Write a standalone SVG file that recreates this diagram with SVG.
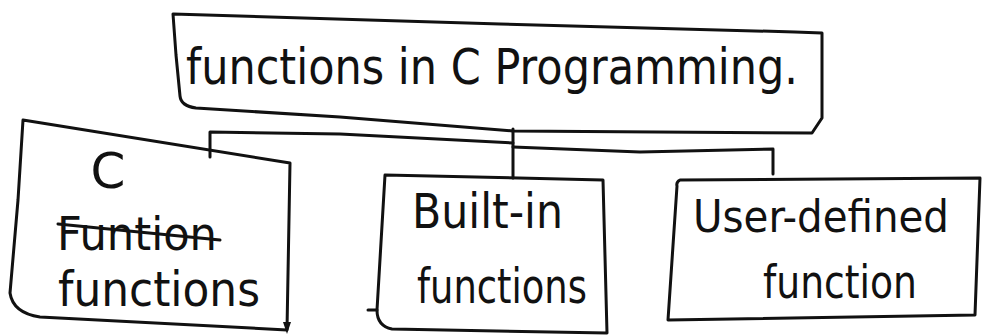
<svg xmlns="http://www.w3.org/2000/svg" width="984" height="336" viewBox="0 0 984 336">
  <style>
    .pen { fill: none; stroke: #111; stroke-width: 3; stroke-linecap: round; stroke-linejoin: round; }
    .hand { font-family: "DejaVu Sans", "Liberation Sans", sans-serif; fill: #111; font-weight: normal; }
  </style>
  <rect width="984" height="336" fill="#fff"/>

  <!-- root node -->
  <g id="node-root">
    <path class="pen" d="M173,14 L500,24 L795,32 L822,33 L822,118 L812,133 L513,131 L340,117 L196,108 Q181,106 180,96 L176,55 Z"/>
    <text class="hand" x="186" y="84" font-size="50" textLength="612" lengthAdjust="spacingAndGlyphs">functions in C Programming.</text>
  </g>

  <!-- connectors -->
  <g id="connectors">
    <path class="pen" d="M513,129 L513,178"/>
    <path class="pen" d="M210,157 L210,132 L340,134 L513,143"/>
    <path class="pen" d="M513,147 L640,152 L773,149 L773,174"/>
  </g>

  <!-- C functions node -->
  <g id="node-c-functions">
    <path class="pen" d="M23,120 L290,163 L287,330 L40,317 Q13,313 10,293 L18,200 Z"/>
    <path d="M283,322 L291,322 L287,334 Z" fill="#111"/>
    <text class="hand" x="108" y="188" font-size="50" text-anchor="middle">C</text>
    <text class="hand" x="57" y="250" font-size="46" textLength="160" lengthAdjust="spacingAndGlyphs">Funtion</text>
    <path class="pen" d="M58,224 L220,240"/>
    <text class="hand" x="58" y="306" font-size="48" textLength="202" lengthAdjust="spacingAndGlyphs">functions</text>
  </g>

  <!-- Built-in node -->
  <g id="node-built-in">
    <path class="pen" d="M385,175 L603,180 L607,333 L392,329 Q377,326 377,310 Z"/>
    <path class="pen" d="M368,310 L377,310"/>
    <text class="hand" x="412" y="228" font-size="48" textLength="151" lengthAdjust="spacingAndGlyphs">Built-in</text>
    <text class="hand" x="417" y="303" font-size="48" textLength="170" lengthAdjust="spacingAndGlyphs">functions</text>
  </g>

  <!-- User-defined node -->
  <g id="node-user-defined">
    <path class="pen" d="M680,180 L980,178 L975,315 L668,320 L677,186 Q676,182 680,180 Z"/>
    <text class="hand" x="693" y="232" font-size="45" textLength="256" lengthAdjust="spacingAndGlyphs">User-defined</text>
    <text class="hand" x="763" y="298" font-size="46" textLength="154" lengthAdjust="spacingAndGlyphs">function</text>
  </g>
</svg>
